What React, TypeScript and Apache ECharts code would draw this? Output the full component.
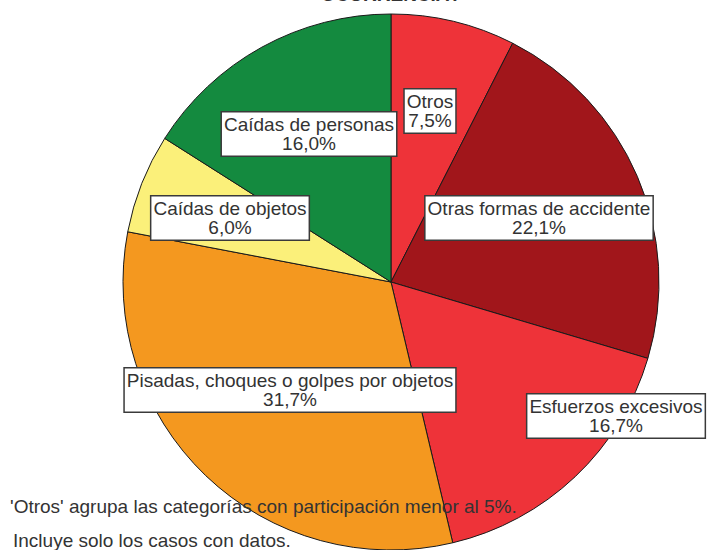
import React, { useEffect, useRef } from "react";
import * as echarts from "echarts";

const categories = [
  "Otros",
  "Otras formas de accidente",
  "Esfuerzos excesivos",
  "Pisadas, choques o golpes por objetos",
  "Caídas de objetos",
  "Caídas de personas",
];
const values = [7.5, 22.1, 16.7, 31.7, 6.0, 16.0];
const colors = ["#EE3339", "#A1161B", "#EE3339", "#F4981F", "#FBF07A", "#148A3F"];
const titleText = "OCURRENCIA?";
const notes = [
  "'Otros' agrupa las categorías con participación menor al 5%.",
  "Incluye solo los casos con datos.",
];

// label centre positions (layout only)
const labelPos: [number, number][] = [
  [430, 111],
  [539, 218],
  [616, 416],
  [290, 390],
  [230, 218],
  [309, 134],
];

export default function App() {
  const ref = useRef<HTMLDivElement>(null);
  useEffect(() => {
    document.body.style.margin = "0";
    if (!ref.current) return;
    const chart = echarts.init(ref.current, null, { renderer: "svg" });
    const font = "'Liberation Sans', Arial, sans-serif";
    chart.setOption({
      animation: false,
      backgroundColor: "#ffffff",
      series: [
        {
          type: "pie",
          center: [391, 282],
          radius: 268,
          startAngle: 90,
          clockwise: true,
          avoidLabelOverlap: false,
          silent: true,
          itemStyle: { borderColor: "#1a1a1a", borderWidth: 1 },
          label: {
            show: true,
            position: "inside",
            formatter: (p: any) =>
              `${p.name}\n${Number(p.value).toFixed(1).replace(".", ",")}%`,
            fontFamily: font,
            fontSize: 19,
            lineHeight: 19,
            color: "#333333",
            align: "center",
            verticalAlign: "middle",
            backgroundColor: "#ffffff",
            borderColor: "#3a3a3a",
            borderWidth: 1.5,
            padding: [3, 2, 2, 2],
          },
          labelLine: { show: false },
          labelLayout: (params: any) => {
            const pos = labelPos[params.dataIndex];
            return { x: pos[0], y: pos[1], align: "center", verticalAlign: "middle" };
          },
          data: categories.map((c, i) => ({
            name: c,
            value: values[i],
            itemStyle: { color: colors[i] },
          })),
        },
      ],
      graphic: [
        {
          type: "text",
          x: 391,
          y: 4,
          z: 100,
          style: {
            text: titleText,
            fontFamily: font,
            fontSize: 19,
            fontWeight: "bold",
            fill: "#333333",
            textAlign: "center",
            textVerticalAlign: "bottom",
          },
        },
        {
          type: "text",
          x: 10,
          y: 506,
          z: 100,
          style: {
            text: notes[0],
            fontFamily: font,
            fontSize: 19,
            fill: "#333333",
            textAlign: "left",
            textVerticalAlign: "middle",
          },
        },
        {
          type: "text",
          x: 13,
          y: 540,
          z: 100,
          style: {
            text: notes[1],
            fontFamily: font,
            fontSize: 19,
            fill: "#333333",
            textAlign: "left",
            textVerticalAlign: "middle",
          },
        },
      ],
    });
    return () => chart.dispose();
  }, []);
  return <div ref={ref} style={{ width: 710, height: 550 }} />;
}
